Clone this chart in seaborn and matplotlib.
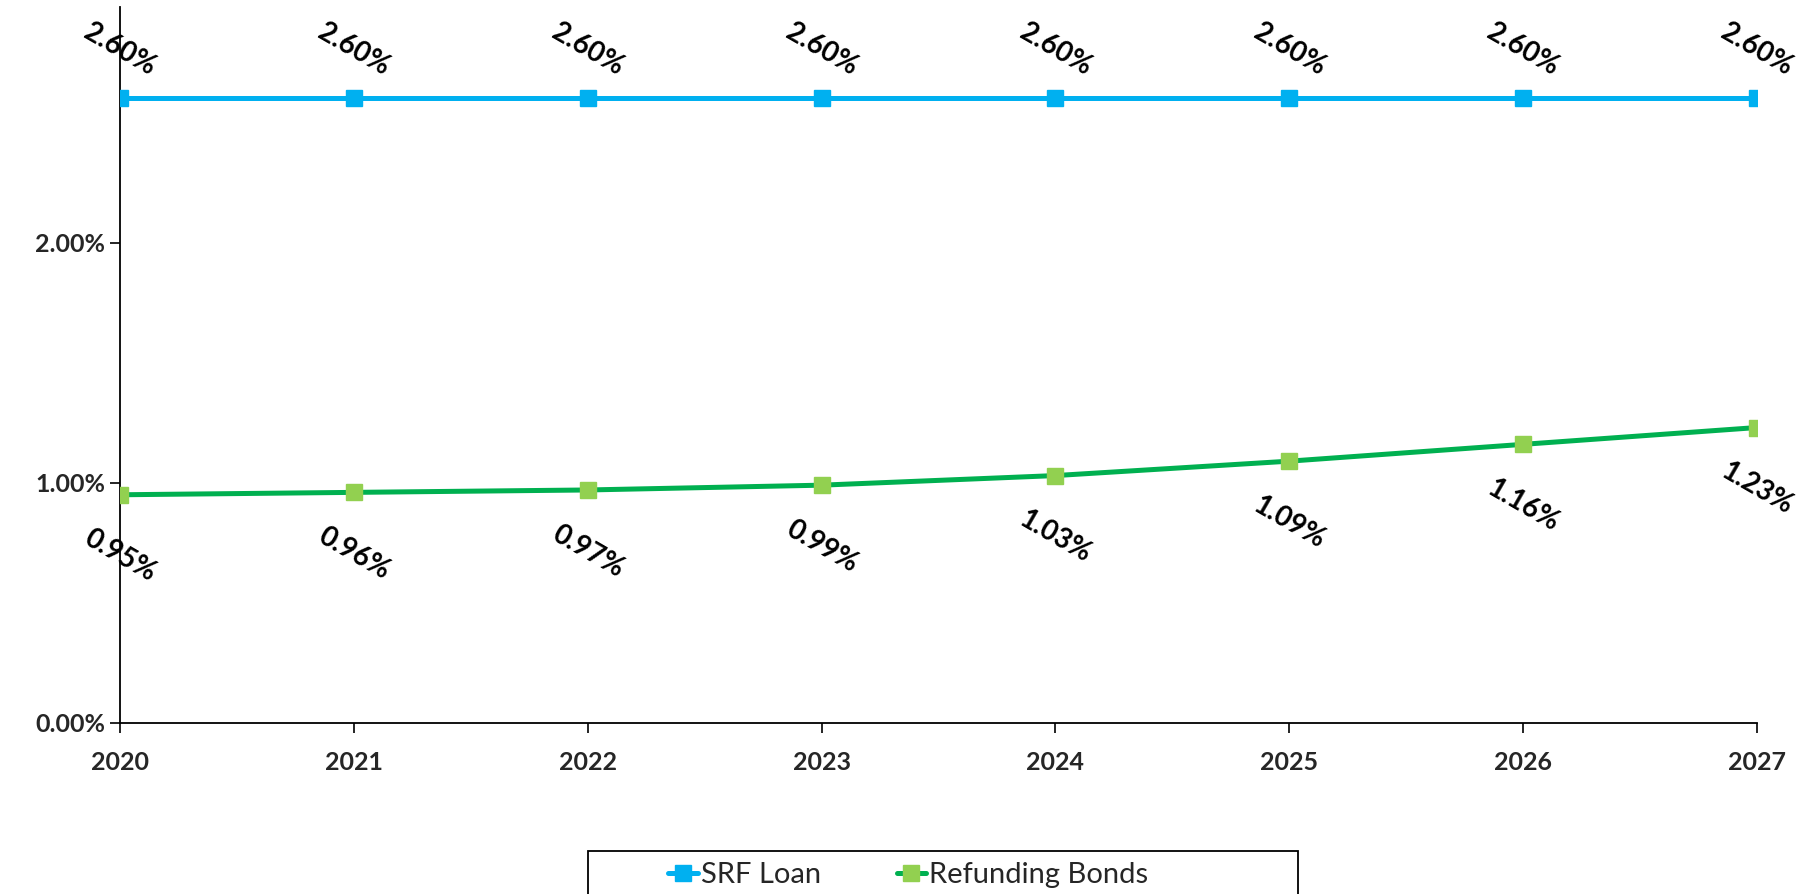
# interest rate comparison: SRF loan vs refunding bonds, 2020-2027

import pandas as pd
import matplotlib.pyplot as plt
import seaborn as sns
from matplotlib.patches import Rectangle

years = [2020, 2021, 2022, 2023, 2024, 2025, 2026, 2027]
srf_loan = [2.60, 2.60, 2.60, 2.60, 2.60, 2.60, 2.60, 2.60]
refunding_bonds = [0.95, 0.96, 0.97, 0.99, 1.03, 1.09, 1.16, 1.23]
series_names = ['SRF Loan', 'Refunding Bonds']
y_ticks = [0.0, 1.0, 2.0]

sns.set_theme(style="white")
plt.rcParams['font.family'] = ['Lato', 'DejaVu Sans']

df = pd.DataFrame({
    'Year': years * 2,
    'Rate': srf_loan + refunding_bonds,
    'Series': [series_names[0]] * len(years) + [series_names[1]] * len(years),
})

line_colors = {'SRF Loan': '#00B0F0', 'Refunding Bonds': '#00B050'}
marker_colors = {'SRF Loan': '#00B0F0', 'Refunding Bonds': '#92D050'}

fig = plt.figure(figsize=(18.09, 8.94), dpi=100)
ax = fig.add_axes([0.0663, 0.1913, 0.905, 0.8007])

sns.lineplot(data=df, x='Year', y='Rate', hue='Series', palette=line_colors,
             linewidth=3.6, ax=ax, legend=False)

# square markers drawn on top with their own fill colour
for name in series_names:
    sub = df[df['Series'] == name]
    ax.plot(sub['Year'], sub['Rate'], linestyle='none', marker='s', markersize=11,
            markerfacecolor=marker_colors[name], markeredgecolor=marker_colors[name], zorder=4)

# data labels, rotated like the original
for x, v in zip(years, srf_loan):
    ax.annotate(f'{v:.2f}%', xy=(x, v), xytext=(0, 35), textcoords='offset points',
                ha='center', va='center', rotation=-30, fontsize=20, fontweight='bold',
                color='black', annotation_clip=False)
for x, v in zip(years, refunding_bonds):
    ax.annotate(f'{v:.2f}%', xy=(x, v), xytext=(0, -44), textcoords='offset points',
                ha='center', va='center', rotation=-30, fontsize=20, fontweight='bold',
                color='black', annotation_clip=False)

ax.set_xlim(2020, 2027)
ax.set_ylim(0, 2.98)
ax.set_xticks(years)
ax.set_xticklabels([str(y) for y in years])
ax.set_yticks(y_ticks)
ax.set_yticklabels([f'{t:.2f}%' for t in y_ticks])
ax.set_xlabel('')
ax.set_ylabel('')

ax.tick_params(axis='both', which='major', direction='out', length=7, width=1.2,
               color='black', labelsize=18, left=True, bottom=True)
ax.tick_params(axis='x', pad=13)
ax.tick_params(axis='y', pad=3.5)
for lab in ax.get_xticklabels() + ax.get_yticklabels():
    lab.set_fontweight('bold')

for side in ['top', 'right']:
    ax.spines[side].set_visible(False)
for side in ['left', 'bottom']:
    ax.spines[side].set_color('black')
    ax.spines[side].set_linewidth(1.3)

# legend handles: line with square marker
handles = []
for name in series_names:
    h, = ax.plot([], [], color=line_colors[name], linewidth=3.6, marker='s', markersize=11,
                 markerfacecolor=marker_colors[name], markeredgecolor=marker_colors[name])
    handles.append(h)

# wide legend box running off the bottom edge, as in the original
fig.patches.append(Rectangle((0.325, -0.05), 0.3925, 0.098, transform=fig.transFigure,
                             facecolor='white', edgecolor='black', linewidth=1.3))
leg = fig.legend(handles, series_names, loc='center', bbox_to_anchor=(0.502, 0.021),
                 ncol=2, frameon=False, fontsize=21, handlelength=1.0,
                 handletextpad=0.1, columnspacing=2.6, borderaxespad=0)

fig.savefig('out.png', dpi=100)
